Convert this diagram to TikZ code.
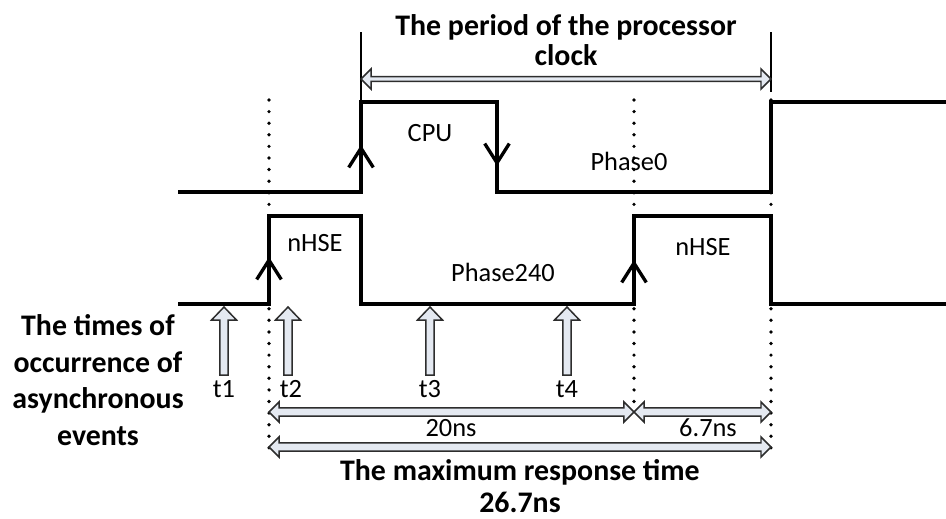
\documentclass[tikz,border=0pt]{standalone}
\usepackage{fontspec}
\setmainfont{Carlito}
\usetikzlibrary{arrows.meta}
\usetikzlibrary{calc}
\definecolor{evfill}{RGB}{228,233,241}
\definecolor{evdraw}{RGB}{45,45,45}
\tikzset{
  signal/.style = {line width = 1.9pt,
                   line join = miter},
  edgetip/.style = {line width = 1.9pt,
                    -{Straight Barb[length = 11pt, width = 14pt]}},
  marker/.style = {line width = 1.4pt},
  dotline/.style = {line width = 2.1pt,
                    line cap = round,
                    dash pattern = on 0pt off 6.6pt},
  hollow/.style = {draw = evdraw,
                   fill = evfill,
                   line width = 0.85pt,
                   line join = miter},
  evarrow/.style = {hollow,
                    to path = {let \p1 = (\tikztostart), \p2 = (\tikztotarget) in
                      (\x2,\y2) -- (\x2+7.1pt,\y2-7.4pt) -- (\x2+2.3pt,\y2-7.4pt)
                      -- (\x2+2.3pt,\y1) -- (\x2-2.3pt,\y1) -- (\x2-2.3pt,\y2-7.4pt)
                      -- (\x2-7.1pt,\y2-7.4pt) -- cycle}},
  spanarrow/.style 2 args = {hollow,
                    to path = {let \p1 = (\tikztostart), \p2 = (\tikztotarget) in
                      (\x1,\y1) -- (\x1+#1,\y1+#1) -- (\x1+#1,\y1+#2)
                      -- (\x2-#1,\y1+#2) -- (\x2-#1,\y1+#1) -- (\x2,\y1)
                      -- (\x2-#1,\y1-#1) -- (\x2-#1,\y1-#2) -- (\x1+#1,\y1-#2)
                      -- (\x1+#1,\y1-#1) -- cycle}},
  tag/.style = {font = \fontsize{15}{17}\selectfont,
                inner sep = 0pt},
  heading/.style = {font = \fontsize{17}{17}\selectfont\bfseries,
                    align = center,
                    inner sep = 0pt}
}

\begin{document}
\begin{tikzpicture}[x = 0.02cm, y = -0.02cm]
\useasboundingbox (0,0) rectangle (946,518);

% dotted guides
\draw[dotline] (269,100) -- (269,455);
\draw[dotline] (634,100) -- (634,410);
\draw[dotline] (771,100) -- (771,452);

% processor clock and phase signals
\draw[signal] (178,192) -- (361,192) -- (361,102) -- (497,102) -- (497,192)
  -- (771,192) -- (771,102) -- (950,102);
\draw[signal] (178,304) -- (269,304) -- (269,216) -- (361,216) -- (361,304)
  -- (634,304) -- (634,216) -- (771,216) -- (771,304) -- (950,304);

\draw[edgetip] (361,192) -- (361,145);
\draw[edgetip] (497,102) -- (497,166);
\draw[edgetip] (269,304) -- (269,257);
\draw[edgetip] (634,304) -- (634,260);

\node[tag](label-cpu) at (430,133) {CPU};
\node[tag](label-phase0) at (629,161) {Phase0};
\node[tag](label-nhse-a) at (315,243) {nHSE};
\node[tag](label-phase240) at (503,272) {Phase240};
\node[tag](label-nhse-b) at (703,247) {nHSE};

% period of the clock
\draw[marker] (361,32) -- (361,100);
\draw[marker] (771,32) -- (771,92);
\coordinate (period-start) at (361,79);
\coordinate (period-end) at (771,79);
\draw[spanarrow = {5.7pt}{1.4pt}] (period-start) to (period-end);
\node[heading](label-period) at (566,40) {The period of the processor\\clock};

% asynchronous events
\foreach \k/\xpos in {1/224, 2/288, 3/430, 4/567} {
  \coordinate (event-\k-base) at (\xpos,375);
  \coordinate (event-\k-tip) at (\xpos,307);
  \draw[evarrow] (event-\k-base) to (event-\k-tip);
}
\node[tag](label-t1) at (224,389) {t1};
\node[tag](label-t2) at (291,389) {t2};
\node[tag](label-t3) at (430,389) {t3};
\node[tag](label-t4) at (567,389) {t4};
\node[heading, font = \fontsize{17}{20.8}\selectfont\bfseries](label-events)
  at (98,380) {The times of\\occurrence of\\asynchronous\\events};

% response times
\coordinate (resp-start) at (269,412);
\coordinate (resp-mid) at (634,412);
\coordinate (resp-end) at (771,412);
\coordinate (max-start) at (269,447);
\coordinate (max-end) at (771,447);
\draw[spanarrow = {5.7pt}{2.3pt}] (resp-start) to (resp-mid);
\draw[spanarrow = {5.7pt}{2.3pt}] (resp-mid) to (resp-end);
\draw[spanarrow = {5.7pt}{2.3pt}] (max-start) to (max-end);
\node[tag](label-20) at (451,428) {20ns};
\node[tag](label-67) at (708,428) {6.7ns};
\node[heading, font = \fontsize{17}{18}\selectfont\bfseries](label-max)
  at (520,486) {The maximum response time\\26.7ns};

\end{tikzpicture}
\end{document}
